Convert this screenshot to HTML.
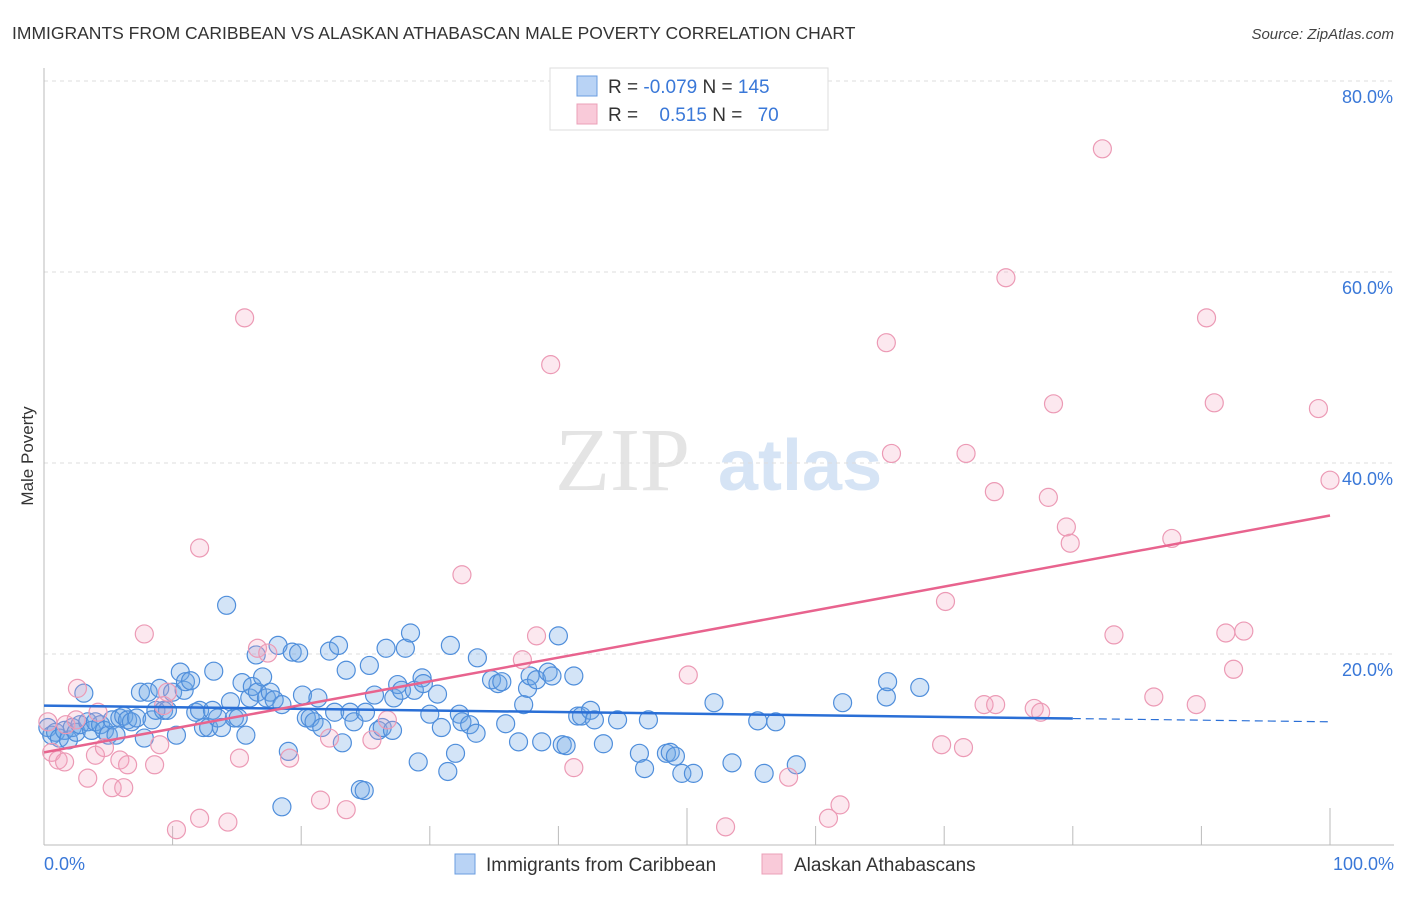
<!DOCTYPE html>
<html><head><meta charset="utf-8"><style>
body{margin:0;background:#fff;font-family:"Liberation Sans",sans-serif}
</style></head><body>
<svg width="1406" height="892" xmlns="http://www.w3.org/2000/svg" font-family="Liberation Sans, sans-serif">
<text x="12" y="39" font-size="17.5" fill="#333">IMMIGRANTS FROM CARIBBEAN VS ALASKAN ATHABASCAN MALE POVERTY CORRELATION CHART</text>
<text x="1394" y="39" font-size="15" fill="#444" font-style="italic" text-anchor="end">Source: ZipAtlas.com</text>
<g><text x="555" y="490" font-size="90" fill="#e4e4e4" font-family="Liberation Serif, serif">ZIP</text><text x="718" y="490" font-size="72" fill="#d6e4f5" font-weight="bold">atlas</text></g>
<g id="grid"></g>
<g id="axes"></g>
<g id="marks"></g>
<text transform="translate(33,456) rotate(-90)" font-size="17" fill="#333" text-anchor="middle">Male Poverty</text>
<g>
<rect x="550" y="68" width="278" height="62" fill="#fff" stroke="#ddd"/>
<rect x="577" y="76" width="20" height="20" fill="#b9d3f5" stroke="#6a9de0"/>
<rect x="577" y="104" width="20" height="20" fill="#f9cad9" stroke="#eba0b8"/>
<text x="608" y="93" font-size="19" fill="#333">R = <tspan fill="#3a78d8">-0.079</tspan>   N = <tspan fill="#3a78d8">145</tspan></text>
<text x="608" y="121" font-size="19" fill="#333">R = <tspan fill="#3a78d8" dx="16">0.515</tspan>   N = <tspan fill="#3a78d8" dx="10">70</tspan></text>
</g>
<g>
<rect x="455" y="854" width="20" height="20" fill="#b9d3f5" stroke="#6a9de0"/>
<text x="486" y="871" font-size="19" fill="#333">Immigrants from Caribbean</text>
<rect x="762" y="854" width="20" height="20" fill="#f9cad9" stroke="#eba0b8"/>
<text x="794" y="871" font-size="19" fill="#333">Alaskan Athabascans</text>
</g>
</svg>
<script>
const yTicks=[20,40,60,80];
const yTickLabels=["20.0%","40.0%","60.0%","80.0%"];
const xTicks=[0,10,20,30,40,50,60,70,80,90,100];
const blueX=[0.3,0.6,0.9,1.2,1.6,1.9,2.2,2.5,2.8,3.1,3.4,3.7,4.0,4.4,4.7,5.0,5.3,5.6,5.9,6.2,6.5,6.8,7.2,7.5,7.8,8.1,8.4,8.7,9.0,9.3,9.6,10.0,10.3,10.6,10.9,11.0,11.4,11.8,12.1,12.4,12.8,13.1,13.2,13.5,13.8,14.2,14.5,14.8,15.1,15.4,15.7,16.0,16.2,16.5,16.6,17.0,17.3,17.6,17.9,18.2,18.5,19.0,19.3,19.8,20.1,20.4,20.7,21.0,21.3,21.6,22.2,22.6,22.9,23.2,23.5,23.8,24.1,24.6,25.0,25.3,25.7,26.0,26.3,26.6,27.1,27.2,27.5,27.8,28.1,28.5,28.8,29.1,29.4,29.5,30.0,30.6,30.9,31.4,31.6,32.0,32.3,32.5,33.1,33.6,33.7,34.8,35.3,35.6,35.9,36.9,37.3,37.6,37.8,38.3,38.7,39.2,39.5,40.0,40.3,40.6,41.2,41.5,41.8,42.5,42.8,43.5,44.6,46.3,46.7,47.0,48.4,48.7,49.1,49.6,50.5,52.1,53.5,55.5,56.0,56.9,58.5,62.1,65.5,65.6,68.1,18.5,24.9];
const blueY=[12.3,11.5,11.8,11.2,12.0,11.0,12.3,11.8,12.6,15.9,12.9,12.0,12.9,12.6,12.0,11.5,13.1,11.5,13.3,13.5,13.1,12.9,13.3,16.0,11.2,16.0,13.1,14.1,16.4,14.1,14.1,16.0,11.5,18.1,16.2,17.1,17.2,13.9,14.1,12.3,12.3,14.1,18.2,13.3,12.3,25.1,15.0,13.3,13.3,17.0,11.5,15.4,16.6,19.9,16.0,17.6,15.4,16.0,15.2,20.9,14.7,9.8,20.2,20.1,15.7,13.3,13.3,12.9,15.4,12.3,20.3,13.9,20.9,10.7,18.3,13.9,12.9,5.8,13.9,18.8,15.7,12.0,12.3,20.6,12.0,15.4,16.8,16.2,20.6,22.2,16.2,8.7,17.5,16.9,13.7,15.8,12.3,7.7,20.9,9.6,13.7,12.9,12.6,11.7,19.6,17.3,16.9,17.1,12.7,10.8,14.7,16.4,17.7,17.3,10.8,18.1,17.7,21.9,10.5,10.4,17.7,13.5,13.5,14.1,13.1,10.6,13.1,9.6,8.0,13.1,9.6,9.7,9.3,7.5,7.5,14.9,8.6,13.0,7.5,12.9,8.4,14.9,15.5,17.1,16.5,4.0,5.7];
const pinkX=[0.3,0.6,1.1,1.6,1.7,2.6,2.5,3.4,4.0,4.2,4.7,5.3,5.9,6.2,6.5,7.8,8.6,9.0,9.3,9.6,10.3,12.1,12.1,14.3,15.2,15.6,16.6,17.4,19.1,21.5,22.2,23.5,25.5,26.7,32.5,37.2,38.3,39.4,41.2,50.1,53.0,57.9,61.0,61.9,65.5,65.9,69.8,70.1,71.5,71.7,73.1,73.9,74.0,74.8,77.0,77.5,78.1,78.5,79.5,79.8,82.3,83.2,86.3,87.7,89.6,90.4,91.0,91.9,92.5,93.3,99.1,100];
const pinkY=[12.9,9.7,8.9,8.7,12.6,16.4,13.1,7.0,9.4,13.9,10.2,6.0,8.9,6.0,8.4,22.1,8.4,10.5,14.6,16.0,1.6,31.1,2.8,2.4,9.1,55.2,20.6,20.1,9.1,4.7,11.2,3.7,11.0,13.1,28.3,19.4,21.9,50.3,8.1,17.8,1.9,7.1,2.8,4.2,52.6,41.0,10.5,25.5,10.2,41.0,14.7,37.0,14.7,59.4,14.3,13.9,36.4,46.2,33.3,31.6,72.9,22.0,15.5,32.1,14.7,55.2,46.3,22.2,18.4,22.4,45.7,38.2];
const blueTrend=[14.6,12.9];
const pinkTrend=[9.7,34.5];
const NS="http://www.w3.org/2000/svg";
const X0=44,X1=1330,Y0=845,Y80=81;
const sx=v=>X0+(X1-X0)*v/100;
const sy=v=>Y0-(Y0-Y80)*v/80;
function mk(tag,attrs,parent){const e=document.createElementNS(NS,tag);for(const k in attrs)e.setAttribute(k,attrs[k]);document.getElementById(parent).appendChild(e);return e;}
yTicks.forEach((t,i)=>{
 const l=mk('line',{x1:X0,x2:1394,y1:sy(t),y2:sy(t),stroke:'#ddd','stroke-dasharray':'4,4'},'grid');
 
 
 const tx=mk('text',{x:1393,y:sy(t)+22,'font-size':18,fill:'#3a78d8','text-anchor':'end'},'grid');
 tx.textContent=yTickLabels[i];
 
 
});
const ax=mk('line',{x1:X0,x2:X0,y1:68,y2:Y0,stroke:'#bbb'},'axes');


const bx=mk('line',{x1:X0,x2:1394,y1:Y0,y2:Y0,stroke:'#bbb'},'axes');


xTicks.forEach(t=>{
 const tk=mk('line',{x1:sx(t),x2:sx(t),y1:(t%50==0?808:826),y2:Y0,stroke:'#bbb'},'axes');
 
 
});
const xl=mk('text',{x:44,y:870,'font-size':18,fill:'#3a78d8'},'axes');xl.textContent='0.0%';


const xr=mk('text',{x:1394,y:870,'font-size':18,fill:'#3a78d8','text-anchor':'end'},'axes');xr.textContent='100.0%';


blueX.forEach((v,i)=>{
 const c=mk('circle',{cx:sx(v),cy:sy(blueY[i]),r:9,fill:'rgba(110,165,230,0.3)',stroke:'#4f8edb','stroke-width':1.2},'marks');
 
 
});
pinkX.forEach((v,i)=>{
 const c=mk('circle',{cx:sx(v),cy:sy(pinkY[i]),r:9,fill:'rgba(245,165,190,0.25)',stroke:'#ec9ab5','stroke-width':1.2},'marks');
 
 
});
const bt=v=>blueTrend[0]+(blueTrend[1]-blueTrend[0])*v/100;
const l1=mk('line',{x1:sx(0),y1:sy(bt(0)),x2:sx(80),y2:sy(bt(80)),stroke:'#2a6fd6','stroke-width':2.5},'marks');


const l2=mk('line',{x1:sx(80),y1:sy(bt(80)),x2:sx(100),y2:sy(bt(100)),stroke:'#2a6fd6','stroke-width':1.2,'stroke-dasharray':'8,5'},'marks');


const l3=mk('line',{x1:sx(0),y1:sy(pinkTrend[0]),x2:sx(100),y2:sy(pinkTrend[1]),stroke:'#e8638e','stroke-width':2.5},'marks');


</script>
</body></html>
